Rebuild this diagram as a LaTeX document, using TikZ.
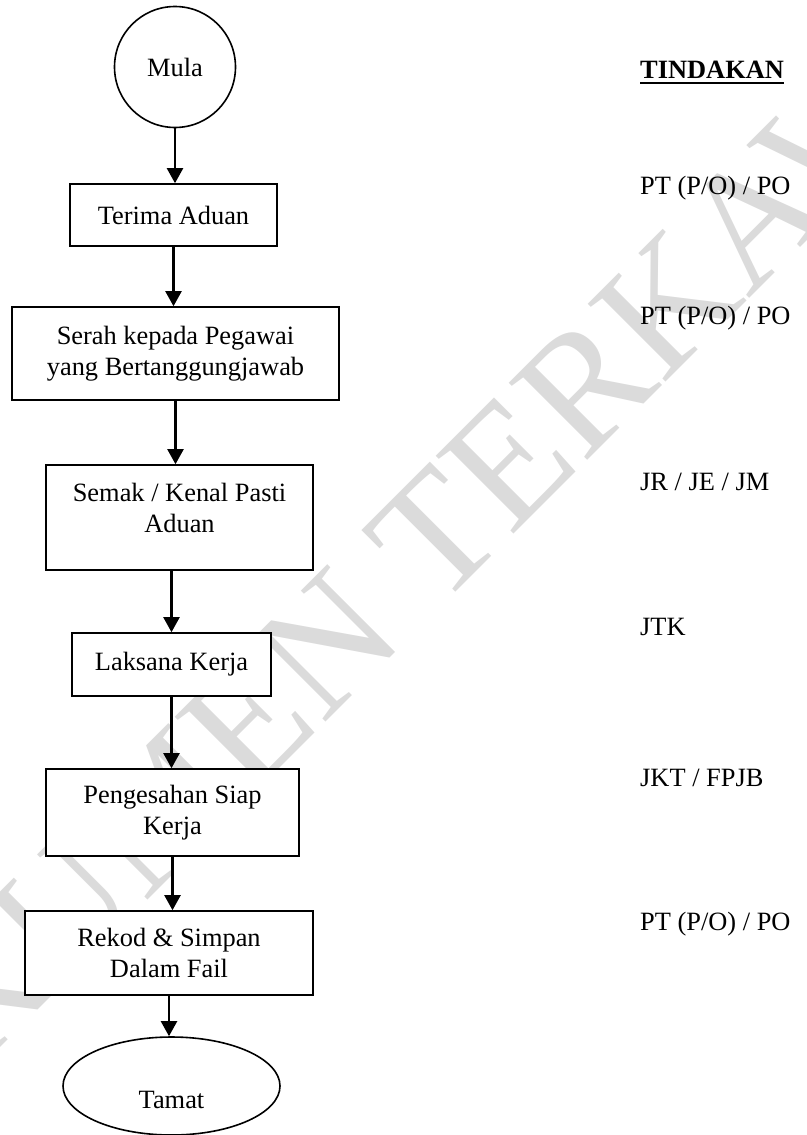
\documentclass[tikz,border=0pt]{standalone}
\usepackage{fontspec}
\setmainfont{Liberation Serif}
\usetikzlibrary{arrows.meta,shapes.geometric}
\tikzset{
  box/.style={draw,line width=1.6pt,fill=white,align=center,inner sep=0pt},
  flow/.style={line width=2.2pt,-{Triangle[length=15pt,width=16pt]}},
  aksi/.style={anchor=base west,inner sep=0pt}
}
\begin{document}
\begin{tikzpicture}[x=1pt,y=-1pt,font=\fontsize{26.4}{31}\selectfont]
	\useasboundingbox (0,0) rectangle (806,1135);
	\node[rotate=45,text=black!14,font=\fontsize{168}{168}\selectfont] (tera) at (403,568) {DOKUMEN TERKAWAL};
	\node[box,circle,minimum size=121pt] (mula) at (175,67) {Mula};
	\node[box,minimum width=207pt,minimum height=62pt] (terima) at (173.5,215) {Terima Aduan};
	\node[box,minimum width=327pt,minimum height=93pt] (serah) at (175.5,353.5) {Serah kepada Pegawai\\yang Bertanggungjawab};
	\node[box,minimum width=267pt,minimum height=105pt] (semak) at (179.5,517.5) {};
	\node[align=center,inner sep=0pt] (semaktxt) at (179.5,508) {Semak / Kenal Pasti\\Aduan};
	\node[box,minimum width=199pt,minimum height=63pt] (laksana) at (171.5,664.5) {Laksana Kerja};
	\node[box,minimum width=253pt,minimum height=87pt] (sah) at (172.5,812.5) {Pengesahan Siap\\Kerja};
	\node[box,minimum width=288pt,minimum height=84pt] (rekod) at (169,953) {Rekod \& Simpan\\Dalam Fail};
	\node[box,ellipse,minimum width=217pt,minimum height=98pt,text height=44pt,text depth=0pt] (tamat) at (171.5,1086) {Tamat};
	\draw[flow] (mula) -- (mula |- terima.north);
	\draw[flow] (terima) -- (terima |- serah.north);
	\draw[flow] (serah) -- (serah |- semak.north);
	\draw[flow] (laksana |- semak.south) -- (laksana.north);
	\draw[flow] (laksana) -- (laksana |- sah.north);
	\draw[flow] (sah) -- (sah |- rekod.north);
	\draw[flow] (rekod) -- (rekod |- tamat.north);
	\node[aksi] (tindakan) at (640,78) {\textbf{TINDAKAN}};
	\draw[line width=2pt] ([yshift=-5pt]tindakan.base west) -- ([yshift=-5pt]tindakan.base east);
	\node[aksi] (aksi1) at (640,194) {PT (P/O) / PO};
	\node[aksi] (aksi2) at (640,324) {PT (P/O) / PO};
	\node[aksi] (aksi3) at (640,490) {JR / JE / JM};
	\node[aksi] (aksi4) at (640,635) {JTK};
	\node[aksi] (aksi5) at (640,786) {JKT / FPJB};
	\node[aksi] (aksi6) at (640,930) {PT (P/O) / PO};
\end{tikzpicture}
\end{document}
